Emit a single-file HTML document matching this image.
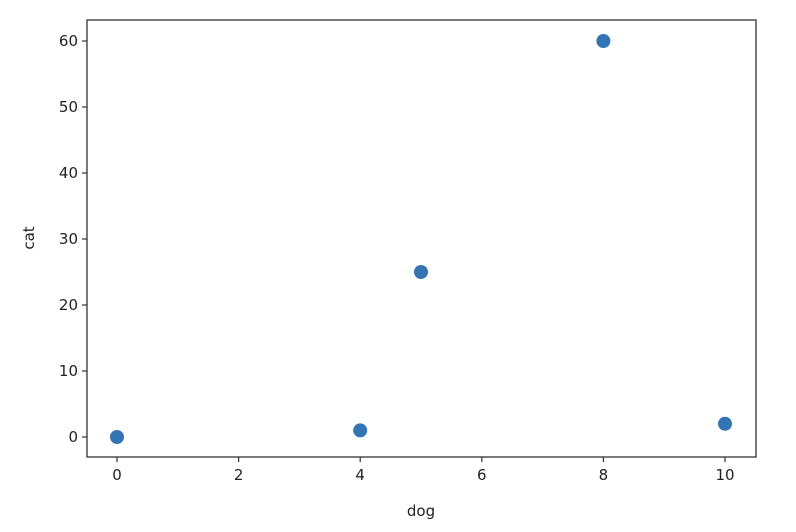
<!DOCTYPE html>
<html><head><meta charset="utf-8"><style>
body{margin:0;background:#fff;}
svg{display:block;font-family:"DejaVu Sans","Liberation Sans",sans-serif;}
</style></head><body>
<svg id="chart" width="796" height="532">
<rect x="87" y="20" width="669" height="437" fill="#fff" stroke="#333" stroke-width="1.3"/>
<g id="xt"></g>
<g id="yt"></g>
<g id="pts"></g>
<text x="421" y="516" font-size="15" fill="#222" text-anchor="middle">dog</text>
<text x="34" y="238" font-size="15" fill="#222" text-anchor="middle" transform="rotate(-90 34 238)">cat</text>
</svg>
<script>
const xs=[0,4,5,8,10];
const ys=[0,1,25,60,2];
const xTicks=[0,2,4,6,8,10];
const yTicks=[0,10,20,30,40,50,60];
const X=v=>117+v*60.8;
const Y=v=>437-v*6.6;
const ns="http://www.w3.org/2000/svg";
function mk(t,a,p){const e=document.createElementNS(ns,t);for(const k in a)e.setAttribute(k,a[k]);p.appendChild(e);return e;}
const xt=document.getElementById('xt'),yt=document.getElementById('yt'),pts=document.getElementById('pts');
xTicks.forEach(v=>{
 const l=mk('line',{x1:X(v),x2:X(v),y1:457,y2:462,stroke:'#333','stroke-width':1.2},xt);
 
 
 const t=mk('text',{x:X(v),y:480,'font-size':15,fill:'#222','text-anchor':'middle'},xt);t.textContent=v;
 
 
});
yTicks.forEach(v=>{
 const l=mk('line',{x1:82,x2:87,y1:Y(v),y2:Y(v),stroke:'#333','stroke-width':1.2},yt);
 
 
 const t=mk('text',{x:78,y:Y(v)+5,'font-size':15,fill:'#222','text-anchor':'end'},yt);t.textContent=v;
 
 
});
xs.forEach((x,i)=>{
 const c=mk('circle',{cx:X(x),cy:Y(ys[i]),r:7,fill:'#3274b4'},pts);
 
 
});
</script>
</body></html>
